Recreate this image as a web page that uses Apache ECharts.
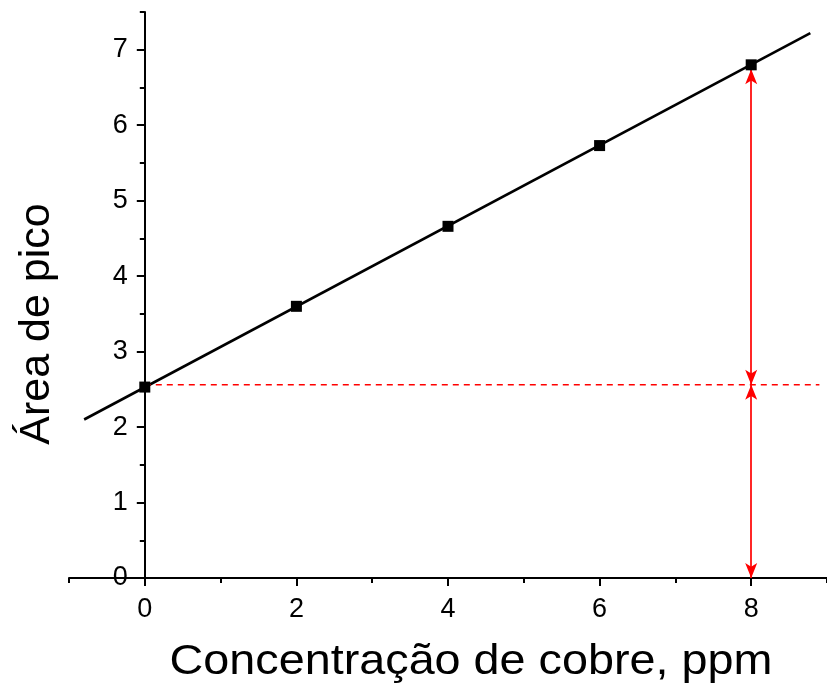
<!DOCTYPE html>
<html><head><meta charset="utf-8">
<script src="https://cdn.jsdelivr.net/npm/echarts@6/dist/echarts.min.js"></script>
<style>html,body{margin:0;padding:0;background:#fff}#c{width:827px;height:688px}</style>
</head><body><div id="c"></div>
<script>
// ---- data ----
const concentration = [0, 2, 4, 6, 8];
const peakArea = [2.53, 3.60, 4.66, 5.73, 6.80];
const fitLineX = [-0.8, 8.78];
const fitLineY = [2.10, 7.22];
const blankLevel = 2.56;
const dashedEndX = 8.9;
const arrowX = 8;
const arrowTopY = 6.74;
const arrowBottomY = 0;
const xMajorTicks = [0, 2, 4, 6, 8];
const xMinorTicks = [-1, 1, 3, 5, 7, 9];
const yMajorTicks = [0, 1, 2, 3, 4, 5, 6, 7];
const yMinorTicks = [0.5, 1.5, 2.5, 3.5, 4.5, 5.5, 6.5, 7.5];
const xTitle = 'Concentração de cobre, ppm';
const yTitle = 'Área de pico';

const FONT = 'Liberation Sans, Arial, sans-serif';
const chart = echarts.init(document.getElementById('c'), null, {renderer: 'canvas'});
const axisLineStyle = {color: '#000', width: 2};
const GRID_LEFT = 69, GRID_RIGHT = 0;
const X_MIN = -1, X_MAX = 9;
// shift the y axis from the grid's left edge to x = 0
const yOffset = -(0 - X_MIN) / (X_MAX - X_MIN) * (827 - GRID_LEFT - GRID_RIGHT);

chart.setOption({
  animation: false,
  backgroundColor: '#fff',
  grid: {left: GRID_LEFT, right: GRID_RIGHT, top: 12, bottom: 110, containLabel: false},
  xAxis: [
    {type: 'value', min: X_MIN, max: X_MAX, position: 'bottom',
      axisLine: {onZero: false, lineStyle: axisLineStyle},
      axisTick: {show: true, customValues: xMajorTicks, length: 8, lineStyle: axisLineStyle},
      axisLabel: {customValues: xMajorTicks, fontSize: 27, color: '#000', margin: 18, fontFamily: FONT},
      splitLine: {show: false}},
    {type: 'value', min: X_MIN, max: X_MAX, position: 'bottom',
      axisLine: {show: false, onZero: false},
      axisTick: {show: true, customValues: xMinorTicks, length: 5, lineStyle: axisLineStyle},
      axisLabel: {show: false}, splitLine: {show: false}}
  ],
  yAxis: [
    {type: 'value', min: 0, max: 7.5, position: 'left', offset: yOffset,
      axisLine: {onZero: false, lineStyle: axisLineStyle},
      axisTick: {show: true, customValues: yMajorTicks, length: 8, lineStyle: axisLineStyle},
      axisLabel: {customValues: yMajorTicks, fontSize: 27, color: '#000', margin: 17, fontFamily: FONT},
      splitLine: {show: false}},
    {type: 'value', min: 0, max: 7.5, position: 'left', offset: yOffset,
      axisLine: {show: false, onZero: false},
      axisTick: {show: true, customValues: yMinorTicks, length: 5, lineStyle: axisLineStyle},
      axisLabel: {show: false}, splitLine: {show: false}}
  ],
  series: [
    {type: 'line', xAxisIndex: 0, yAxisIndex: 0, symbol: 'none', z: 2,
      data: fitLineX.map((x, i) => [x, fitLineY[i]]),
      lineStyle: {color: '#000', width: 2.6}},
    {type: 'line', xAxisIndex: 0, yAxisIndex: 0, symbol: 'none', z: 3,
      data: [[0, blankLevel], [dashedEndX, blankLevel]],
      lineStyle: {color: '#ff0000', width: 1.5, type: [6, 5]},
      markLine: {
        silent: true, symbol: ['arrow', 'arrow'], symbolSize: [9, 15],
        label: {show: false},
        lineStyle: {color: '#ff0000', width: 1.7, type: 'solid'},
        data: [
          [{coord: [arrowX, arrowTopY]}, {coord: [arrowX, blankLevel]}],
          [{coord: [arrowX, blankLevel]}, {coord: [arrowX, arrowBottomY]}]
        ]
      }},
    {type: 'scatter', xAxisIndex: 0, yAxisIndex: 0, symbol: 'rect', symbolSize: 11, z: 5,
      itemStyle: {color: '#000', opacity: 1},
      data: concentration.map((x, i) => [x, peakArea[i]])}
  ],
  graphic: [
    {type: 'text', x: 37, y: 324, rotation: Math.PI / 2,
      style: {text: yTitle, fontSize: 43, fontFamily: FONT, fill: '#000', align: 'center', verticalAlign: 'middle'}},
    {type: 'text', x: 471, y: 662, scaleX: 1.087,
      style: {text: xTitle, fontSize: 43, fontFamily: FONT, fill: '#000', align: 'center', verticalAlign: 'middle'}}
  ]
});
</script>
</body></html>
